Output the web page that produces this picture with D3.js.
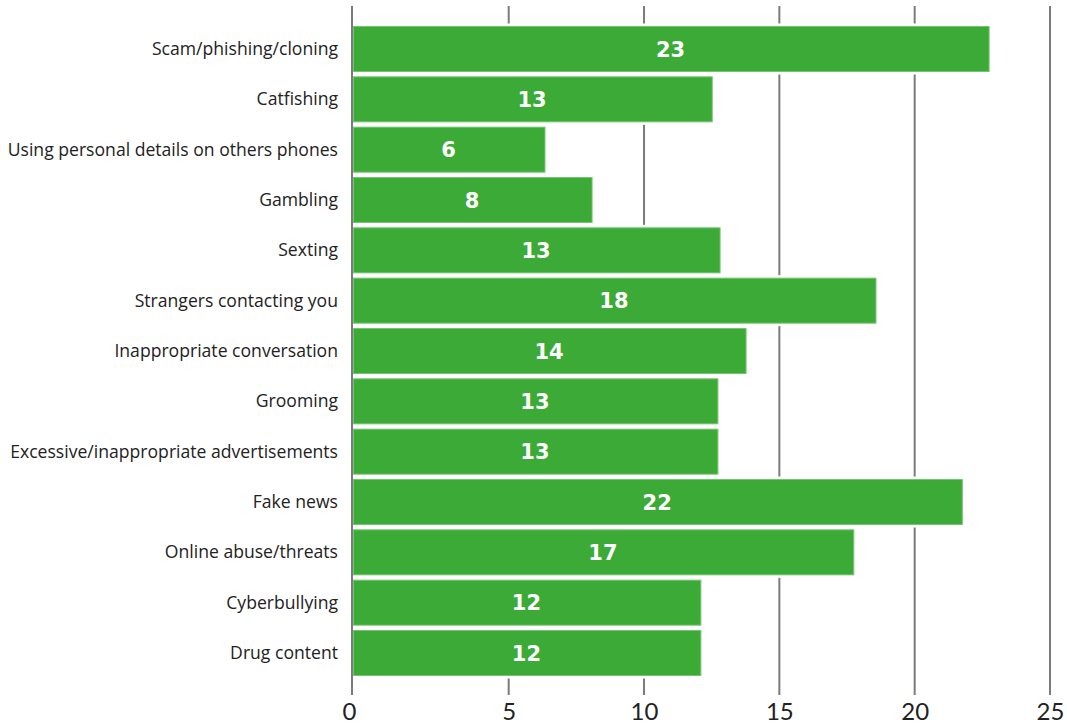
<!DOCTYPE html>
<html>
<head>
<meta charset="utf-8">
<script src="https://cdn.jsdelivr.net/npm/d3@7"></script>
<style>
    html, body { margin: 0; padding: 0; background: #fff; }
    svg { display: block; }
</style>
</head>
<body>
<div id="chart"></div>
<script>
// ---------- data ----------
const categories = [
    'Scam/phishing/cloning',
    'Catfishing',
    'Using personal details on others phones',
    'Gambling',
    'Sexting',
    'Strangers contacting you',
    'Inappropriate conversation',
    'Grooming',
    'Excessive/inappropriate advertisements',
    'Fake news',
    'Online abuse/threats',
    'Cyberbullying',
    'Drug content'
];
// bar lengths as drawn
const values = [22.75, 12.52, 6.34, 8.08, 12.81, 18.57, 13.77, 12.73, 12.73, 21.76, 17.75, 12.1, 12.1];
// numbers printed on the bars
const valueLabels = ['23', '13', '6', '8', '13', '18', '14', '13', '13', '22', '17', '12', '12'];
const ticks = [0, 5, 10, 15, 20, 25];

const width = 1067, height = 726;

const svg = d3.select('#chart').append('svg')
    .attr('width', width)
    .attr('height', height);

// the picture's axis is stretched between 0 and 5, so use a polylinear scale
const x = d3.scaleLinear()
    .domain([0, 5, 25])
    .range([352, 508.7, 1050]);

const y = d3.scaleBand()
    .domain(categories)
    .range([26, 676])
    .paddingInner(0.086)
    .paddingOuter(0);

const gridTop = 6, gridBottom = 695;

// grid lines (drawn under the bars)
svg.append('g')
    .selectAll('line')
    .data(ticks)
    .enter().append('line')
    .attr('x1', d => x(d))
    .attr('x2', d => x(d))
    .attr('y1', gridTop)
    .attr('y2', gridBottom)
    .attr('stroke', '#7b7b7b')
    .attr('stroke-width', 2);

const rows = d3.range(categories.length);

// white halo under each bar hides the grid in the gaps
svg.append('g')
    .selectAll('rect')
    .data(rows)
    .enter().append('rect')
    .attr('x', x(0) + 1)
    .attr('y', i => y(categories[i]) - 2.5)
    .attr('width', i => x(values[i]) - x(0) + 1)
    .attr('height', y.bandwidth() + 5)
    .attr('fill', '#fff');

svg.append('g')
    .selectAll('rect')
    .data(rows)
    .enter().append('rect')
    .attr('x', x(0) + 1.5)
    .attr('y', i => y(categories[i]) + 0.5)
    .attr('width', i => x(values[i]) - x(0) - 1.5)
    .attr('height', y.bandwidth() - 1)
    .attr('fill', '#3caa36')
    .attr('stroke', '#74c470')
    .attr('stroke-width', 1);

// value labels
svg.append('g')
    .selectAll('text')
    .data(rows)
    .enter().append('text')
    .attr('x', i => (x(0) + x(values[i])) / 2)
    .attr('y', i => y(categories[i]) + y.bandwidth() / 2)
    .attr('dy', '0.36em')
    .attr('text-anchor', 'middle')
    .attr('fill', '#fff')
    .style('font-family', '"DejaVu Sans", sans-serif')
    .style('font-weight', 700)
    .style('font-size', '21px')
    .text(i => valueLabels[i]);

// category labels
svg.append('g')
    .selectAll('text')
    .data(categories)
    .enter().append('text')
    .attr('x', 338)
    .attr('y', d => y(d) + y.bandwidth() / 2)
    .attr('dy', '0.35em')
    .attr('text-anchor', 'end')
    .attr('fill', '#222')
    .style('font-family', '"Open Sans", "Noto Sans", sans-serif')
    .style('font-size', '17.6px')
    .text(d => d);

// bottom tick labels
const xAxis = d3.axisBottom(x)
    .tickValues(ticks)
    .tickSize(0)
    .tickPadding(0);

const axisG = svg.append('g')
    .attr('transform', `translate(0, ${gridBottom + 8})`)
    .call(xAxis);
axisG.select('.domain').remove();
axisG.selectAll('text')
    .attr('fill', '#222')
    .attr('dy', '0.71em')
    .attr('dx', d => d === 0 ? -3 : 0)
    .style('font-family', 'Lato, "Noto Sans", sans-serif')
    .style('font-size', '24px');
</script>
</body>
</html>
